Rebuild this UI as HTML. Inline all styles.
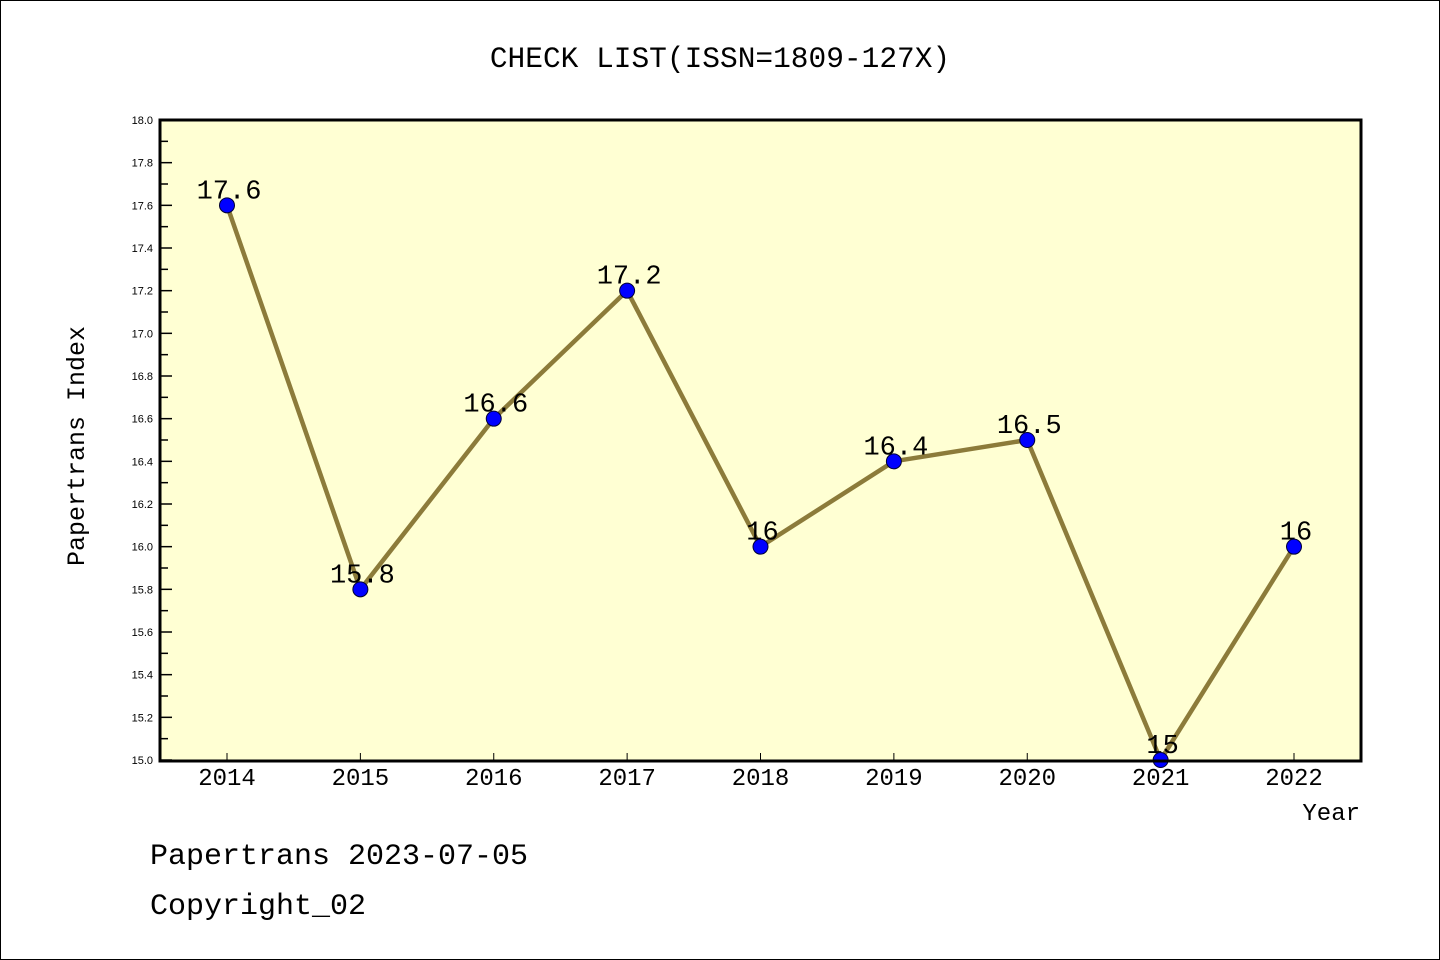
<!DOCTYPE html>
<html><head><meta charset="utf-8"><style>
html,body{margin:0;padding:0;background:#fff}
svg{display:block;font-family:"Liberation Mono","DejaVu Sans Mono",monospace}
</style></head><body>
<svg id="chart" width="1440" height="960">
<rect x="0.5" y="0.5" width="1439" height="959" fill="#fff" stroke="#000"/>
<text x="720" y="67" font-size="29.5" text-anchor="middle">CHECK LIST(ISSN=1809-127X)</text>
<rect x="160" y="120" width="1201" height="641" fill="#ffffd3"/>
<g id="axes"></g>
<g id="marks"></g>
<rect x="160" y="120" width="1201" height="641" fill="none" stroke="#000" stroke-width="3"/>
<text x="84" y="446" font-size="25" text-anchor="middle" transform="rotate(-90 84 446)">Papertrans Index</text>
<text x="1360" y="820" font-size="24" text-anchor="end">Year</text>
<text x="150" y="864" font-size="30">Papertrans 2023-07-05</text>
<text x="150" y="914" font-size="30">Copyright_02</text>
</svg>
<script>
const years = ["2014","2015","2016","2017","2018","2019","2020","2021","2022"];
const values = [17.6,15.8,16.6,17.2,16,16.4,16.5,15,16];
const valueLabels = ["17.6","15.8","16.6","17.2","16","16.4","16.5","15","16"];
const yTicks = ["15.0","15.2","15.4","15.6","15.8","16.0","16.2","16.4","16.6","16.8","17.0","17.2","17.4","17.6","17.8","18.0"];
const NS="http://www.w3.org/2000/svg";
const yMin=15,yMax=18;
function xs(i){return 227+i*(1294-227)/(years.length-1);}
function ys(v){return 760-(v-yMin)/(yMax-yMin)*640;}
function mk(t,a,p){const e=document.createElementNS(NS,t);for(const k in a)e.setAttribute(k,a[k]);p.appendChild(e);return e;}
const axes=document.getElementById('axes'),marks=document.getElementById('marks');
yTicks.forEach((t,i)=>{const v=parseFloat(t),y=ys(v);
 const l=mk('line',{x1:160,x2:172,y1:y,y2:y,stroke:'#000','stroke-width':1.5},axes);
 
 
 if(i<yTicks.length-1){const ym=ys(v+0.1);const m=mk('line',{x1:160,x2:168,y1:ym,y2:ym,stroke:'#000','stroke-width':1.5},axes);
 
 }
 const tx=mk('text',{x:153,y:y+4,'font-size':11,'text-anchor':'end','font-family':'Liberation Sans, sans-serif'},axes);tx.textContent=t;
 
 
});
years.forEach((yr,i)=>{const x=xs(i);
 const l=mk('line',{x1:x,x2:x,y1:760,y2:753,stroke:'#000','stroke-width':1},axes);
 
 
 const tx=mk('text',{x:x,y:785,'font-size':24,'text-anchor':'middle'},axes);tx.textContent=yr;
 
 
});
const pts=values.map((v,i)=>xs(i)+','+ys(v)).join(' ');
const pl=mk('polyline',{points:pts,fill:'none',stroke:'#8c7b3a','stroke-width':4.5,'stroke-linejoin':'round'},marks);


values.forEach((v,i)=>{
 const tx=mk('text',{x:xs(i)+2,y:ys(v)-7,'font-size':27,'text-anchor':'middle'},marks);tx.textContent=valueLabels[i];
 
 
});
values.forEach((v,i)=>{
 const c=mk('circle',{cx:xs(i),cy:ys(v),r:7.5,fill:'#0000ff',stroke:'#000033','stroke-width':1},marks);
 
 
});
</script>
</body></html>
